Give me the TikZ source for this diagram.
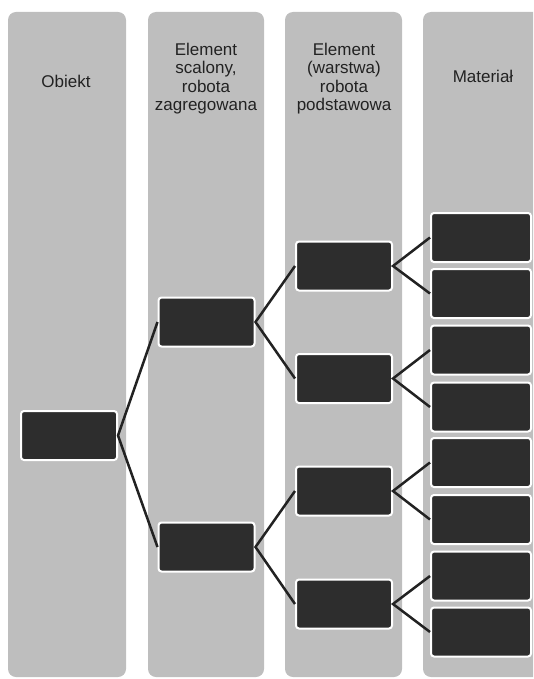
\documentclass[tikz,border=0pt]{standalone}
\usepackage{fontspec}
\setmainfont{Liberation Sans}
\definecolor{colfill}{RGB}{190,190,190}
\definecolor{boxfill}{RGB}{45,45,45}
\definecolor{ink}{RGB}{34,34,34}
\begin{document}
\begin{tikzpicture}[x=1pt,y=-1pt,
  column/.style={fill=colfill, rounded corners=8pt},
  leaf/.style={fill=boxfill, draw=white, line width=2pt, rounded corners=3pt,
    minimum width=96pt, minimum height=49pt, inner sep=0pt},
  head/.style={align=center, text=ink, inner sep=0pt,
    font=\fontsize{17}{18.5}\selectfont},
  link/.style={draw=ink, line width=2.5pt}]
\useasboundingbox (0,0) rectangle (533,679);
\begin{scope}
  \clip (0,0) rectangle (533,679);
  \path[column] (8,12) rectangle (126,677);
  \path[column] (148,12) rectangle (264,677);
  \path[column] (285,12) rectangle (402,677);
  \path[column] (423,12) rectangle (541,677);
\end{scope}
% headings
\node[head] (h1) at (66,81) {Obiekt};
\node[head] (h2) at (206,78.5) {Element\\scalony,\\robota\\zagregowana};
\node[head] (h3) at (344,78.5) {Element\\(warstwa)\\robota\\podstawowa};
\node[head] (h4) at (483,76) {Materiał};
% boxes
\node[leaf] (o) at (69,435.5) {};
\node[leaf] (a1) at (206.5,322) {};
\node[leaf] (a2) at (206.5,547) {};
\node[leaf] (b1) at (344,266) {};
\node[leaf] (b2) at (344,378.5) {};
\node[leaf] (b3) at (344,491) {};
\node[leaf] (b4) at (344,604) {};
\node[leaf, minimum width=100pt] (c1) at (481,237.5) {};
\node[leaf, minimum width=100pt] (c2) at (481,293.5) {};
\node[leaf, minimum width=100pt] (c3) at (481,350) {};
\node[leaf, minimum width=100pt] (c4) at (481,407) {};
\node[leaf, minimum width=100pt] (c5) at (481,462.5) {};
\node[leaf, minimum width=100pt] (c6) at (481,519.5) {};
\node[leaf, minimum width=100pt] (c7) at (481,576) {};
\node[leaf, minimum width=100pt] (c8) at (481,632) {};
% connectors
\draw[link] (a1.west) -- (o.east) -- (a2.west);
\draw[link] (b1.west) -- (a1.east) -- (b2.west);
\draw[link] (b3.west) -- (a2.east) -- (b4.west);
\draw[link] (c1.west) -- (b1.east) -- (c2.west);
\draw[link] (c3.west) -- (b2.east) -- (c4.west);
\draw[link] (c5.west) -- (b3.east) -- (c6.west);
\draw[link] (c7.west) -- (b4.east) -- (c8.west);
\end{tikzpicture}
\end{document}
